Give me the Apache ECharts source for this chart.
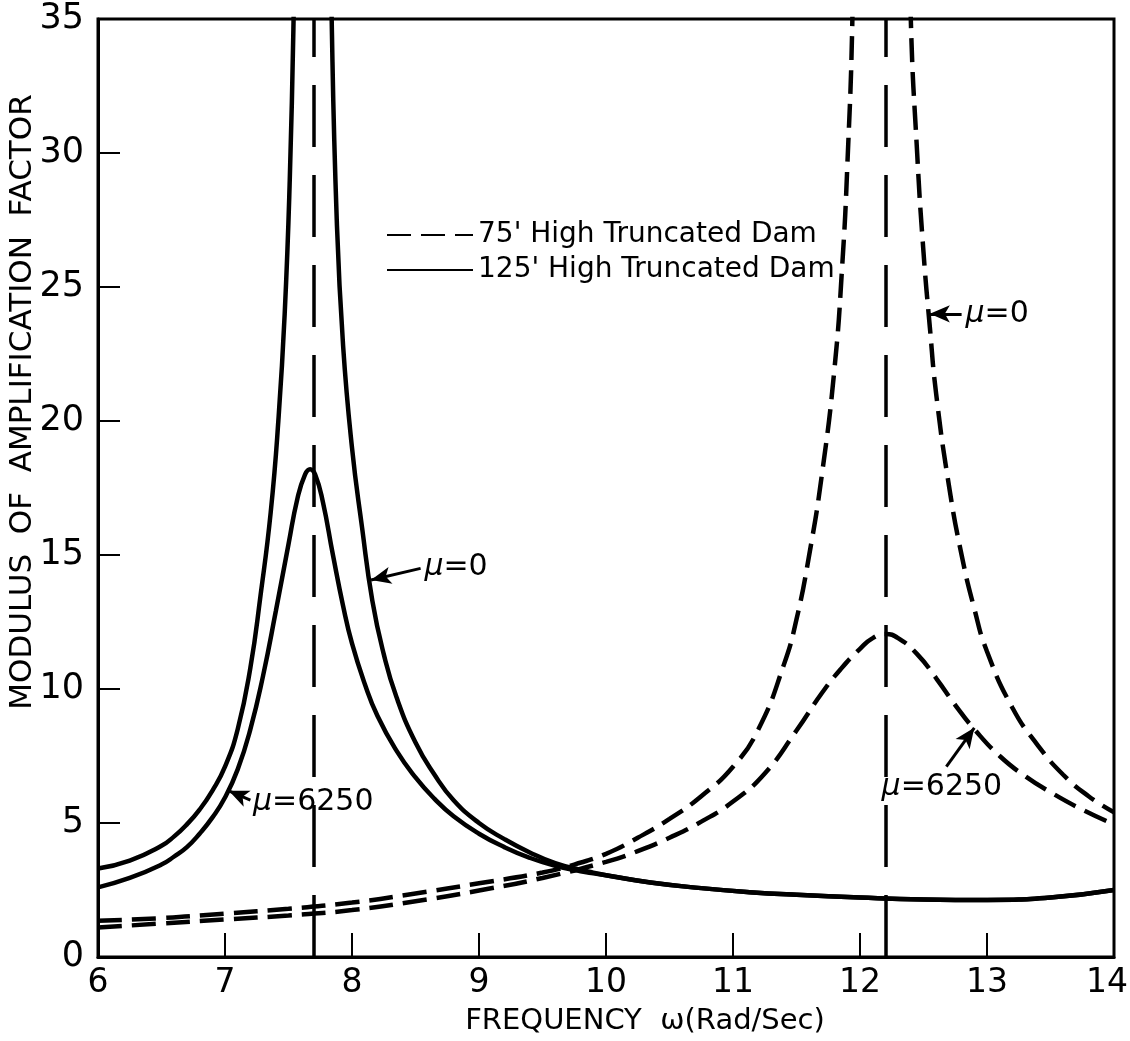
<!DOCTYPE html>
<html>
<head>
<meta charset="utf-8">
<title>Amplification factor</title>
<script src="https://cdn.jsdelivr.net/npm/echarts@6/dist/echarts.min.js"></script>
<style>
  html, body { margin: 0; padding: 0; background: #fff; }
  #chart { width: 1130px; height: 1041px; }
</style>
</head>
<body>
<div id="chart"></div>
<script>
// tick values
const xTicks = [6, 7, 8, 9, 10, 11, 12, 13, 14];
const yTicks = [0, 5, 10, 15, 20, 25, 30, 35];

// 125' dam, mu = 0 (goes off the top near 7.7)
const solidFree = [
  [6.0, 3.3], [6.25, 3.6], [6.5, 4.15], [6.6, 4.5], [6.7, 4.95], [6.8, 5.5],
  [6.9, 6.2], [7.0, 7.1], [7.1, 8.5], [7.2, 10.8], [7.28, 13.5], [7.36, 16.6],
  [7.42, 20.0], [7.47, 24.0], [7.51, 29.0], [7.54, 35], [7.57, 45],
  [7.81, 45], [7.84, 35], [7.88, 27.5], [7.93, 22.8], [8.0, 19.0],
  [8.08, 16.0], [8.16, 13.3], [8.25, 11.3], [8.35, 9.7], [8.5, 8.0],
  [8.65, 6.8], [8.8, 5.85], [9.0, 5.0], [9.2, 4.4], [9.4, 3.9],
  [9.6, 3.5], [9.8, 3.25], [9.9, 3.15]
];
// 125' dam, mu = 6250
const solidDamped = [
  [6.0, 2.6], [6.25, 2.95], [6.5, 3.45], [6.6, 3.75], [6.7, 4.1], [6.8, 4.6],
  [6.9, 5.2], [7.0, 5.95], [7.1, 7.0], [7.2, 8.5], [7.3, 10.5], [7.4, 12.9],
  [7.5, 15.4], [7.57, 17.1], [7.63, 18.0], [7.67, 18.2], [7.71, 18.0],
  [7.77, 17.0], [7.85, 15.0], [7.93, 13.1], [8.0, 11.7], [8.1, 10.2],
  [8.2, 9.0], [8.35, 7.7], [8.5, 6.7], [8.65, 5.9], [8.8, 5.25], [9.0, 4.6],
  [9.2, 4.1], [9.4, 3.7], [9.6, 3.4], [9.8, 3.2], [9.9, 3.12]
];
// shared tail of both 125' curves after they merge
const solidTail = [
  [10.0, 3.05], [10.35, 2.78], [10.75, 2.57], [11.13, 2.42], [11.5, 2.32],
  [12.0, 2.22], [12.5, 2.15], [13.0, 2.13], [13.5, 2.22], [14.0, 2.5]
];
// 75' dam, mu = 0 (goes off the top near 12.2)
const dashedFree = [
  [6.0, 1.35], [6.5, 1.45], [7.0, 1.62], [7.5, 1.8], [8.0, 2.03], [8.5, 2.37],
  [9.0, 2.75], [9.5, 3.15], [9.75, 3.45], [10.0, 3.85], [10.25, 4.45],
  [10.5, 5.15], [10.75, 6.0], [11.0, 7.1], [11.2, 8.5], [11.4, 10.9],
  [11.5, 12.6], [11.6, 15.0], [11.7, 18.0], [11.8, 22.0], [11.86, 25.8],
  [11.9, 29.5], [11.94, 35], [11.97, 45],
  [12.36, 45], [12.4, 35], [12.45, 30.0], [12.5, 26.3], [12.55, 23.5],
  [12.6, 21.0], [12.7, 17.6], [12.8, 15.0], [12.9, 13.0], [13.0, 11.4],
  [13.2, 9.3], [13.4, 7.9], [13.6, 6.8], [13.8, 6.0], [14.0, 5.4]
];
// 75' dam, mu = 6250
const dashedDamped = [
  [6.0, 1.1], [6.5, 1.25], [7.0, 1.4], [7.5, 1.55], [8.0, 1.75], [8.5, 2.08],
  [9.0, 2.48], [9.5, 2.95], [10.0, 3.55], [10.25, 3.95], [10.5, 4.45],
  [10.75, 5.05], [11.0, 5.8], [11.25, 6.85], [11.5, 8.45], [11.7, 9.85],
  [11.85, 10.75], [12.0, 11.5], [12.1, 11.9], [12.2, 12.05], [12.3, 11.9],
  [12.45, 11.3], [12.6, 10.4], [12.75, 9.4], [12.9, 8.5], [13.1, 7.5],
  [13.3, 6.75], [13.5, 6.15], [13.75, 5.5], [14.0, 4.95]
];
// resonance frequencies (vertical dashed lines)
const resonanceLines = [7.7, 12.2];

// labels: [x, y, text]  arrows: [tailX, tailY, tipX, tipY]
const noteLabels = [
  [8.57, 14.55, 'μ=0'],
  [7.22, 5.78, 'μ=6250'],
  [12.83, 24.0, 'μ=0'],
  [12.17, 6.34, 'μ=6250']
];
const noteArrows = [
  [8.54, 14.5, 8.15, 14.07],
  [7.2, 5.85, 7.03, 6.2],
  [12.8, 24.0, 12.55, 24.0],
  [12.68, 7.1, 12.9, 8.55]
];

const NAME_75 = "75' High Truncated Dam";
const NAME_125 = "125' High Truncated Dam";
const FONT = 'DejaVu Sans';

const dashStyle = { color: '#000', width: 4.5, type: [24, 10] };
const solidStyle = { color: '#000', width: 4.5, type: 'solid' };

const chart = echarts.init(document.getElementById('chart'));

function curve(name, data, style) {
  return {
    name: name, type: 'line', data: data,
    smooth: 0.5,
    symbol: 'none', clip: true,
    lineStyle: style, itemStyle: { color: '#000' }
  };
}

const option = {
  animation: false,
  backgroundColor: '#fff',
  textStyle: { fontFamily: FONT, color: '#000' },
  grid: {
    left: 98, right: 16, top: 19, bottom: 84,
    outerBoundsMode: 'none',
    containLabel: false,
    show: true, borderColor: '#000', borderWidth: 3
  },
  legend: {
    data: [NAME_75, NAME_125],
    orient: 'vertical',
    left: 381, top: 216,
    itemWidth: 86, itemHeight: 26, itemGap: 7,
    itemStyle: { opacity: 0 },
    textStyle: { fontFamily: FONT, fontSize: 28, color: '#000' },
    selectedMode: false
  },
  xAxis: {
    type: 'value',
    min: 6, max: 14, interval: 1,
    name: 'FREQUENCY  ω(Rad/Sec)',
    nameLocation: 'middle',
    nameGap: 50,
    nameTextStyle: { fontFamily: FONT, fontSize: 29, color: '#000', padding: [0, 0, 0, 78] },
    axisLine: { lineStyle: { color: '#000', width: 3 } },
    axisTick: { inside: true, length: 24, lineStyle: { color: '#000', width: 2 } },
    axisLabel: {
      fontFamily: FONT, fontSize: 33, color: '#000', margin: 10,
      formatter: v => v === 14 ? '{r|14}' : (xTicks.includes(v) ? String(v) : ''),
      rich: { r: { fontFamily: FONT, fontSize: 33, color: '#000', padding: [0, 14, 0, 0] } }
    },
    splitLine: { show: false }
  },
  yAxis: {
    type: 'value',
    min: 0, max: 35, interval: 5,
    name: 'MODULUS  OF  AMPLIFICATION  FACTOR',
    nameLocation: 'middle',
    nameGap: 60,
    nameMoveOverlap: false,
    nameTextStyle: { fontFamily: FONT, fontSize: 31, color: '#000', padding: [0, 0, 0, 172] },
    axisLine: { lineStyle: { color: '#000', width: 3 } },
    axisTick: { inside: true, length: 22, lineStyle: { color: '#000', width: 2 } },
    axisLabel: {
      fontFamily: FONT, fontSize: 35, color: '#000', margin: 14,
      formatter: v => yTicks.includes(v) ? String(v) : ''
    },
    splitLine: { show: false }
  },
  series: [
    curve(NAME_75, dashedFree, dashStyle),
    curve(NAME_75, dashedDamped, dashStyle),
    curve(NAME_125, solidFree.concat(solidTail), solidStyle),
    curve(NAME_125, solidDamped.concat(solidTail), solidStyle),
    {
      // helper series: resonance lines, arrows and mu labels
      name: 'notes', type: 'line', data: [],
      markLine: {
        silent: true,
        animation: false,
        symbol: ['none', 'none'],
        label: { show: false },
        data: resonanceLines.map(x => ({
          xAxis: x,
          lineStyle: { color: '#000', width: 3.5, type: [62, 28] }
        })).concat(noteArrows.map(a => [
          { coord: [a[0], a[1]],
            lineStyle: { color: '#000', width: 3, type: 'solid' } },
          { coord: [a[2], a[3]], symbol: 'arrow', symbolSize: [13, 20] }
        ]))
      },
      markPoint: {
        silent: true,
        animation: false,
        symbol: 'circle', symbolSize: 0,
        data: noteLabels.map(n => ({
          coord: [n[0], n[1]], name: n[2],
          label: {
            show: true, position: 'right', distance: 0,
            formatter: p => '{m|μ}' + p.name.slice(1),
            fontFamily: FONT, fontSize: 30, color: '#000',
            rich: { m: { fontFamily: FONT, fontSize: 30, fontStyle: 'italic', color: '#000' } }
          }
        }))
      }
    }
  ]
};

chart.setOption(option);
</script>
</body>
</html>
